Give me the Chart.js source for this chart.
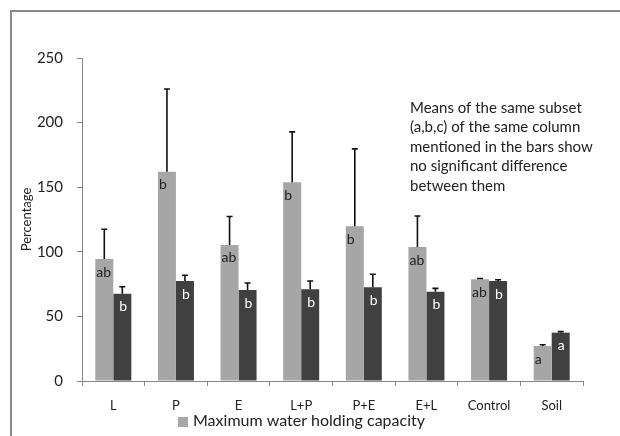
<!DOCTYPE html>
<html>
<head>
<meta charset="utf-8">
<script src="https://cdn.jsdelivr.net/npm/chart.js@4.4.1/dist/chart.umd.min.js"></script>
<style>
  html, body { margin: 0; padding: 0; background: #fff; }
</style>
</head>
<body>
<canvas id="grafico" width="620" height="436"></canvas>
<script>
// Tratamentos
const tratamentos = ['L', 'P', 'E', 'L+P', 'P+E', 'E+L', 'Control', 'Soil'];

// Capacidade máxima de retenção de água (cinza) e segunda série (escura)
const mediaCinza = [94.4, 162, 105.3, 153.8, 119.7, 103.7, 78.7, 27.1];
const erroCinza = [23, 64, 22, 39, 60, 24, 0.6, 1];
const mediaEscura = [67.6, 77.4, 70.4, 71, 72.5, 69.1, 77.4, 37.4];
const erroEscura = [5.4, 4.4, 5.5, 6.4, 10.1, 2.6, 1, 0.8];

// Letras de significância dentro das barras
const letrasCinza = ['ab', 'b', 'ab', 'b', 'b', 'ab', 'ab', 'a'];
const letrasEscura = ['b', 'b', 'b', 'b', 'b', 'b', 'b', 'a'];

const yTicks = [0, 50, 100, 150, 200, 250];

const legenda = 'Maximum water holding capacity';
const nota = [
    'Means of the same subset',
    '(a,b,c) of the same column',
    'mentioned in the bars show',
    'no significant difference',
    'between them'
];

const FONTE = 'Lato, "Open Sans", sans-serif';
Chart.defaults.font.family = FONTE;
Chart.defaults.color = '#222';

// Moldura, barras de erro, letras, nota e legenda
const extras = {
    id: 'extras',
    beforeDraw(chart) {
        const ctx = chart.ctx;
        ctx.save();
        ctx.fillStyle = '#fff';
        ctx.fillRect(0, 0, chart.width, chart.height);
        ctx.fillStyle = '#8a8a8a';
        ctx.fillRect(10, 10, chart.width - 10, 2);
        ctx.fillRect(10, 10, 2, chart.height - 10);
        ctx.restore();
    },
    afterDatasetsDraw(chart) {
        const ctx = chart.ctx;
        const y = chart.scales.y;
        const series = [
            { media: mediaCinza, erro: erroCinza, letras: letrasCinza, cor: '#222', dx: 1 },
            { media: mediaEscura, erro: erroEscura, letras: letrasEscura, cor: '#fff', dx: 6 }
        ];
        ctx.save();
        series.forEach((s, i) => {
            const meta = chart.getDatasetMeta(i);
            meta.data.forEach((bar, j) => {
                const topo = y.getPixelForValue(s.media[j] + s.erro[j]);
                ctx.strokeStyle = '#111';
                ctx.lineWidth = 1.6;
                ctx.beginPath();
                ctx.moveTo(bar.x, bar.y);
                ctx.lineTo(bar.x, topo);
                ctx.moveTo(bar.x - 3, topo);
                ctx.lineTo(bar.x + 3, topo);
                ctx.stroke();

                ctx.fillStyle = s.cor;
                ctx.font = '14px ' + FONTE;
                ctx.textAlign = 'left';
                ctx.textBaseline = 'middle';
                ctx.fillText(s.letras[j], bar.x - bar.width / 2 + s.dx, bar.y + 13);
            });
        });

        ctx.fillStyle = '#222';
        ctx.font = '15px ' + FONTE;
        ctx.textAlign = 'left';
        ctx.textBaseline = 'middle';
        nota.forEach((linha, k) => ctx.fillText(linha, 410, 108 + k * 19.5));

        // legenda (só a série cinza)
        ctx.fillStyle = chart.data.datasets[0].backgroundColor;
        ctx.fillRect(178, 417, 10, 10);
        ctx.fillStyle = '#222';
        ctx.font = '16px ' + FONTE;
        ctx.fillText(legenda, 193, 421);
        ctx.restore();
    }
};

new Chart(document.getElementById('grafico'), {
    type: 'bar',
    data: {
        labels: tratamentos,
        datasets: [
            {
                label: legenda,
                data: mediaCinza,
                backgroundColor: '#a6a6a6',
                barPercentage: 1,
                categoryPercentage: 0.575
            },
            {
                label: '',
                data: mediaEscura,
                backgroundColor: '#404040',
                barPercentage: 1,
                categoryPercentage: 0.575
            }
        ]
    },
    options: {
        responsive: false,
        animation: false,
        layout: { padding: { top: 58, right: 37, bottom: 0, left: 0 } },
        plugins: {
            legend: { display: false },
            tooltip: { enabled: false }
        },
        scales: {
            x: {
                grid: { offset: true, drawOnChartArea: false, tickLength: 5, color: '#868686' },
                border: { color: '#868686' },
                ticks: { font: { size: 13 }, padding: 12, color: '#222' },
                afterFit(scale) { scale.height = 55; }
            },
            y: {
                min: 0,
                max: 250,
                afterBuildTicks(scale) { scale.ticks = yTicks.map(v => ({ value: v })); },
                grid: { drawOnChartArea: false, tickLength: 5, color: '#868686' },
                border: { color: '#868686' },
                ticks: { font: { size: 15 }, padding: 14, color: '#222' },
                title: {
                    display: true,
                    text: 'Percentage',
                    font: { size: 13 },
                    color: '#222',
                    padding: { top: 19, bottom: 0 }
                },
                afterFit(scale) { scale.width = 82; }
            }
        }
    },
    plugins: [extras]
});
</script>
</body>
</html>
